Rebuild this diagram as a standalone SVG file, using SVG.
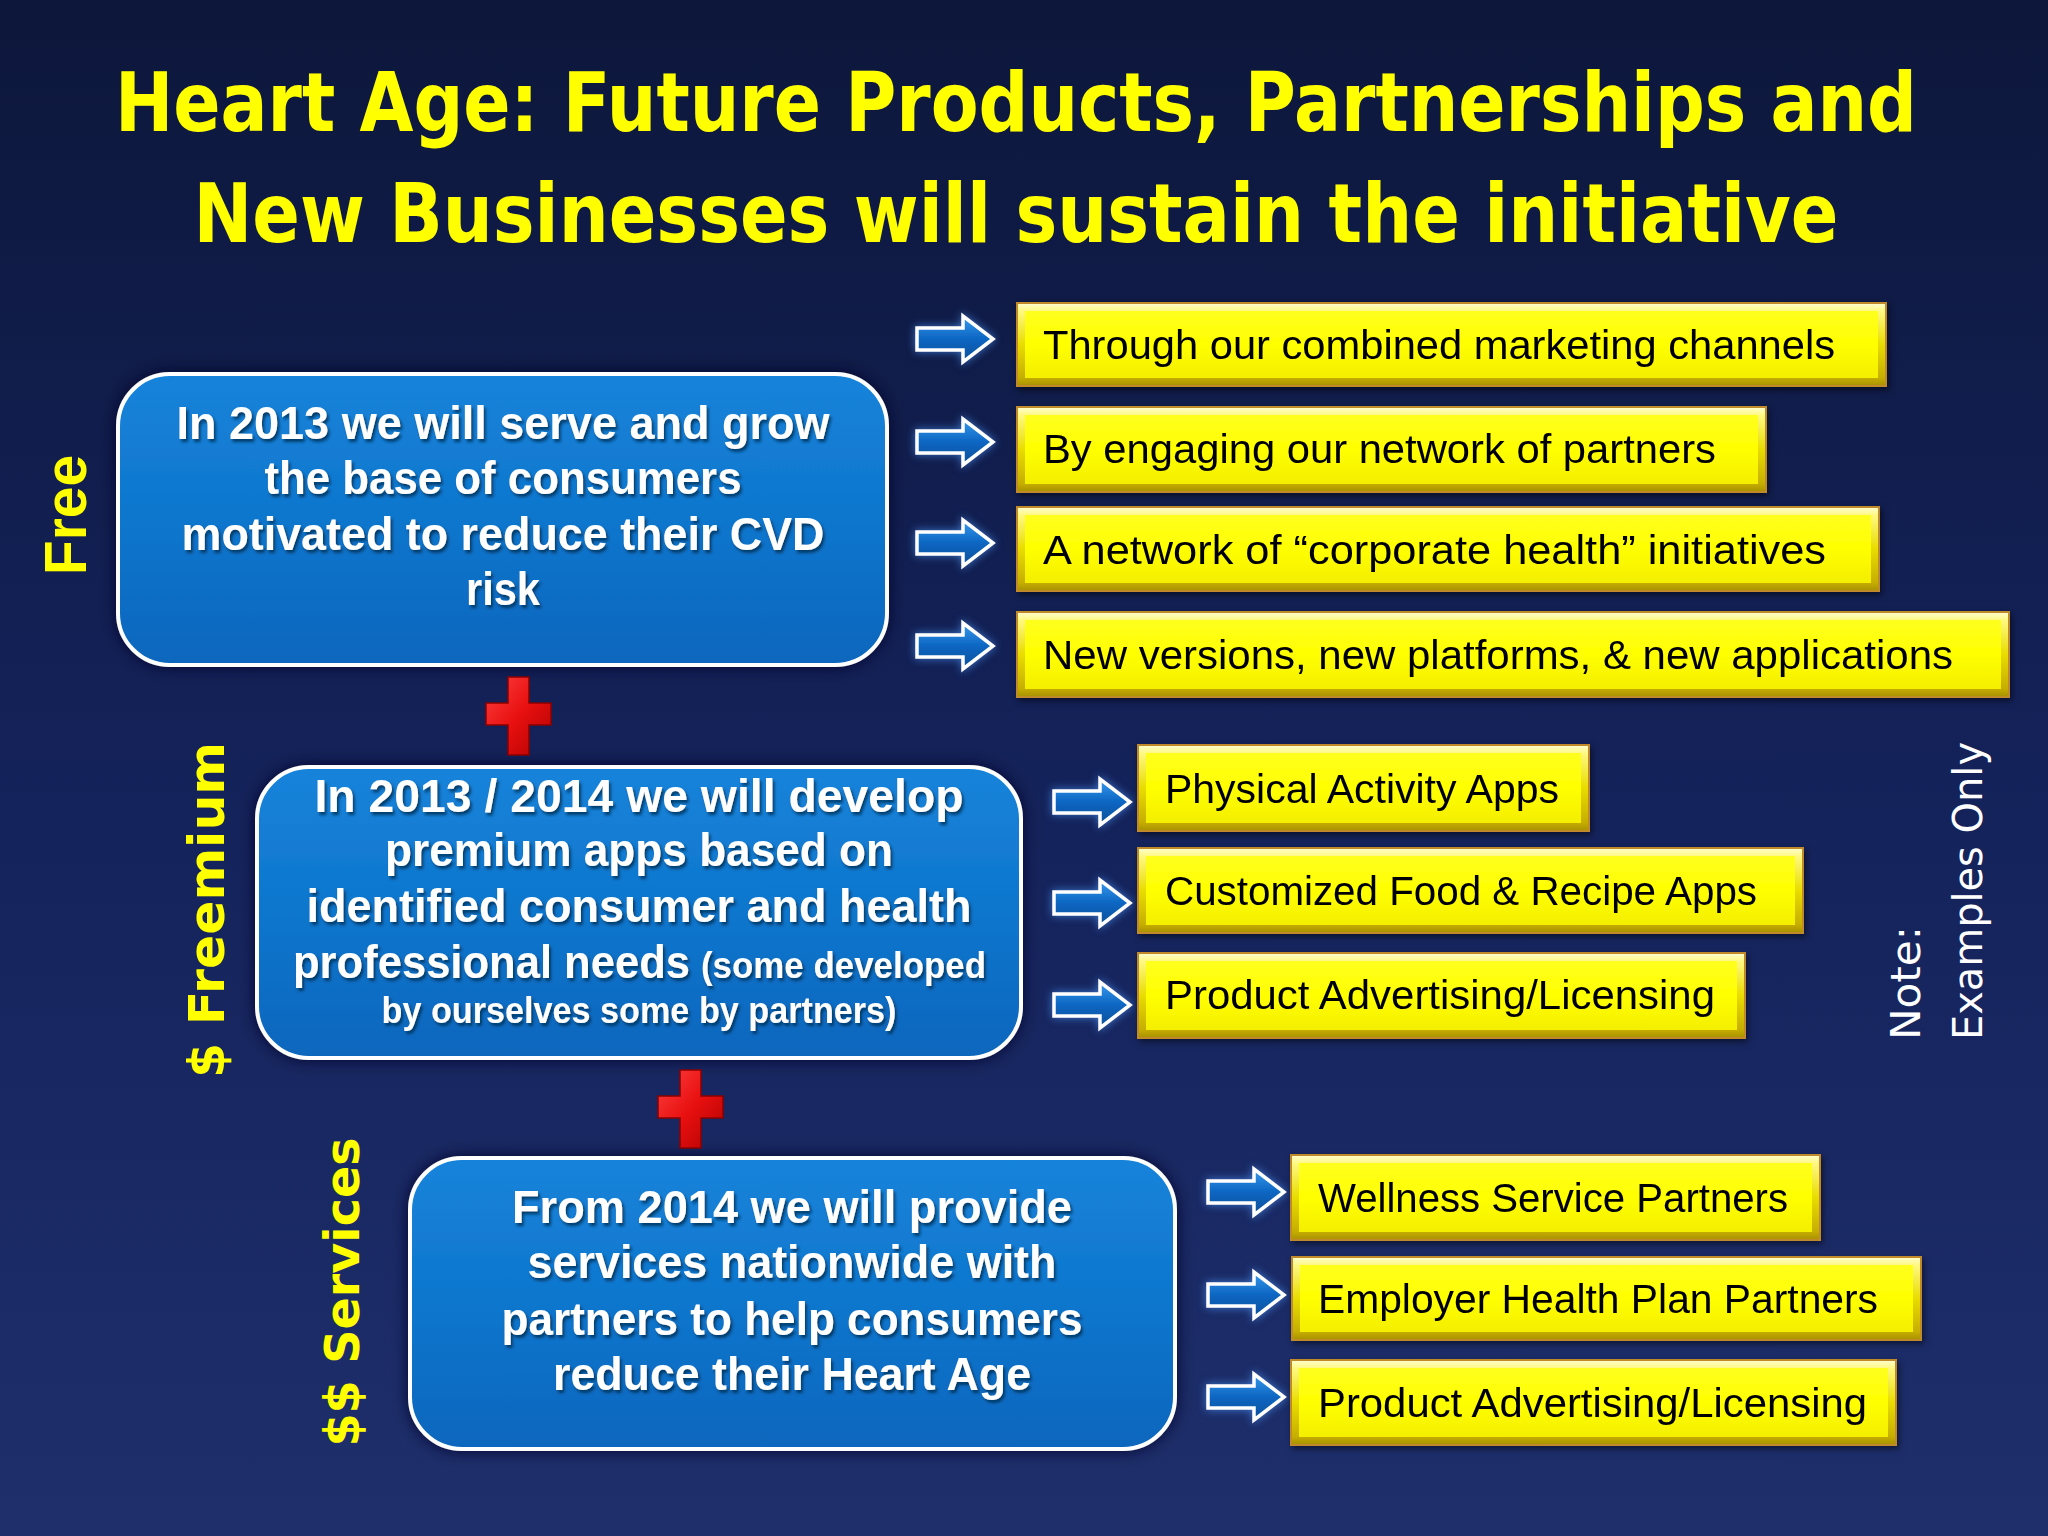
<svg xmlns="http://www.w3.org/2000/svg" width="2048" height="1536" viewBox="0 0 2048 1536">
<defs>
  <linearGradient id="bg" x1="0" y1="0" x2="0" y2="1">
    <stop offset="0" stop-color="#0d173b"/>
    <stop offset="0.5" stop-color="#14225a"/>
    <stop offset="1" stop-color="#1e2f6c"/>
  </linearGradient>
  <linearGradient id="blueBox" x1="0" y1="0" x2="0" y2="1">
    <stop offset="0" stop-color="#1683da"/>
    <stop offset="0.5" stop-color="#0f76cd"/>
    <stop offset="1" stop-color="#0a66bd"/>
  </linearGradient>
  <linearGradient id="yelBevel" x1="0" y1="0" x2="0" y2="1">
    <stop offset="0" stop-color="#fffdd0"/>
    <stop offset="0.1" stop-color="#fff880"/>
    <stop offset="0.5" stop-color="#e8dc00"/>
    <stop offset="0.9" stop-color="#c6ae00"/>
    <stop offset="1" stop-color="#a89000"/>
  </linearGradient>
  <linearGradient id="yel" x1="0" y1="0" x2="0" y2="1">
    <stop offset="0" stop-color="#ffff20"/>
    <stop offset="0.5" stop-color="#ffff00"/>
    <stop offset="1" stop-color="#f4ee00"/>
  </linearGradient>
  <linearGradient id="arrowFill" x1="0" y1="0" x2="0" y2="1">
    <stop offset="0" stop-color="#3a9af0"/>
    <stop offset="0.5" stop-color="#0b66c2"/>
    <stop offset="1" stop-color="#0a4f9a"/>
  </linearGradient>
  <linearGradient id="redFill" x1="0" y1="0" x2="1" y2="1">
    <stop offset="0" stop-color="#ff4040"/>
    <stop offset="0.5" stop-color="#e81010"/>
    <stop offset="1" stop-color="#b00000"/>
  </linearGradient>
  <filter id="boxGlow" x="-10%" y="-15%" width="120%" height="130%">
    <feGaussianBlur in="SourceAlpha" stdDeviation="8" result="b"/>
    <feFlood flood-color="#050c28" flood-opacity="0.9"/>
    <feComposite in2="b" operator="in" result="s"/>
    <feMerge><feMergeNode in="s"/><feMergeNode in="SourceGraphic"/></feMerge>
  </filter>
  <filter id="tshadow" x="-5%" y="-30%" width="110%" height="160%">
    <feDropShadow dx="2" dy="3" stdDeviation="1.5" flood-color="#06305a" flood-opacity="0.85"/>
  </filter>
  <filter id="aglow" x="-30%" y="-50%" width="160%" height="200%">
    <feGaussianBlur in="SourceAlpha" stdDeviation="4" result="b"/>
    <feFlood flood-color="#4a9cff" flood-opacity="0.7"/>
    <feComposite in2="b" operator="in" result="s"/>
    <feMerge><feMergeNode in="s"/><feMergeNode in="SourceGraphic"/></feMerge>
  </filter>
  <filter id="yshadow" x="-5%" y="-20%" width="110%" height="140%">
    <feDropShadow dx="2" dy="3" stdDeviation="3" flood-color="#000000" flood-opacity="0.5"/>
  </filter>
  <path id="arrow" d="M0,-11 H46 V-23 L76,0 L46,23 V11 H0 Z"/>
  <path id="plus" d="M-10.5,-39 H10.5 V-13 H32.5 V9 H10.5 V39 H-10.5 V9 H-32.5 V-13 H-10.5 Z"/>
  <style>
    .title { font-family: "DejaVu Sans", Verdana, sans-serif; font-weight: bold; font-size: 71px; fill: #ffff00; text-anchor: middle; }
    .bbox { fill: url(#blueBox); stroke: #ffffff; stroke-width: 4; }
    .bt { font-family: "Liberation Sans", Arial, sans-serif; font-weight: bold; font-size: 46px; fill: #ffffff; text-anchor: middle; }
    .bts { font-family: "Liberation Sans", Arial, sans-serif; font-weight: bold; font-size: 36px; fill: #ffffff; }
    .ybo { fill: url(#yelBevel); stroke: #c08a2a; stroke-width: 2; }
    .ybi { fill: url(#yel); }
    .yt { font-family: "Liberation Sans", Arial, sans-serif; font-size: 40px; fill: #000000; }
    .arr { fill: url(#arrowFill); stroke: #ffffff; stroke-width: 3.5; stroke-linejoin: miter; }
    .plus { fill: url(#redFill); stroke: #8a0000; stroke-width: 1.5; }
    .side { font-family: "DejaVu Sans", Verdana, sans-serif; font-weight: bold; fill: #ffff00; }
    .note { font-family: "DejaVu Sans", Verdana, sans-serif; font-size: 40px; fill: #ffffff; }
  </style>
</defs>

<rect x="0" y="0" width="2048" height="1536" fill="url(#bg)"/>

<g id="title">
  <text class="title" transform="translate(1016,131) scale(1,1.15)" x="0" y="0" textLength="1802" lengthAdjust="spacingAndGlyphs">Heart Age: Future Products, Partnerships and</text>
  <text class="title" transform="translate(1016,242) scale(1,1.15)" x="0" y="0" textLength="1645" lengthAdjust="spacingAndGlyphs">New Businesses will sustain the initiative</text>
</g>

<g id="side-labels">
  <text class="side" font-size="60" text-anchor="middle" transform="translate(86,515) rotate(-90)" textLength="120" lengthAdjust="spacingAndGlyphs" style="font-family:'Liberation Sans', Arial, sans-serif">Free</text>
  <text class="side" font-size="50" text-anchor="middle" transform="translate(224,910) rotate(-90)" textLength="336" lengthAdjust="spacingAndGlyphs">$ Freemium</text>
  <text class="side" font-size="48" text-anchor="middle" transform="translate(359,1292) rotate(-90)" textLength="309" lengthAdjust="spacingAndGlyphs">$$ Services</text>
</g>

<g id="note">
  <text class="note" transform="translate(1920,1040) rotate(-90)" textLength="114" lengthAdjust="spacingAndGlyphs">Note:</text>
  <text class="note" transform="translate(1982,1040) rotate(-90)" textLength="298" lengthAdjust="spacingAndGlyphs">Examples Only</text>
</g>

<g id="node-free" filter="url(#boxGlow)">
  <rect class="bbox" x="118" y="374" width="769" height="291" rx="52" ry="52"/>
  <g filter="url(#tshadow)">
    <text class="bt" x="503" y="439" textLength="653" lengthAdjust="spacingAndGlyphs">In 2013 we will serve and grow</text>
    <text class="bt" x="503" y="494" textLength="477" lengthAdjust="spacingAndGlyphs">the base of consumers</text>
    <text class="bt" x="503" y="550" textLength="643" lengthAdjust="spacingAndGlyphs">motivated to reduce their CVD</text>
    <text class="bt" x="503" y="605" textLength="74" lengthAdjust="spacingAndGlyphs">risk</text>
  </g>
</g>

<g id="node-freemium" filter="url(#boxGlow)">
  <rect class="bbox" x="257" y="767" width="764" height="291" rx="52" ry="52"/>
  <g filter="url(#tshadow)">
    <text class="bt" x="639" y="812" textLength="649" lengthAdjust="spacingAndGlyphs">In 2013 / 2014 we will develop</text>
    <text class="bt" x="639" y="866" textLength="508" lengthAdjust="spacingAndGlyphs">premium apps based on</text>
    <text class="bt" x="639" y="922" textLength="665" lengthAdjust="spacingAndGlyphs">identified consumer and health</text>
    <text class="bt" x="293" y="978" style="text-anchor:start" textLength="397" lengthAdjust="spacingAndGlyphs">professional needs</text>
    <text class="bts" x="701" y="978" textLength="285" lengthAdjust="spacingAndGlyphs">(some developed</text>
    <text class="bts" x="639" y="1023" text-anchor="middle" textLength="515" lengthAdjust="spacingAndGlyphs">by ourselves some by partners)</text>
  </g>
</g>

<g id="node-services" filter="url(#boxGlow)">
  <rect class="bbox" x="410" y="1158" width="765" height="291" rx="52" ry="52"/>
  <g filter="url(#tshadow)">
    <text class="bt" x="792" y="1223" textLength="560" lengthAdjust="spacingAndGlyphs">From 2014 we will provide</text>
    <text class="bt" x="792" y="1278" textLength="529" lengthAdjust="spacingAndGlyphs">services nationwide with</text>
    <text class="bt" x="792" y="1335" textLength="581" lengthAdjust="spacingAndGlyphs">partners to help consumers</text>
    <text class="bt" x="792" y="1390" textLength="478" lengthAdjust="spacingAndGlyphs">reduce their Heart Age</text>
  </g>
</g>

<g id="plus-signs">
  <use href="#plus" class="plus" transform="translate(518.5,716)"/>
  <use href="#plus" class="plus" transform="translate(690.5,1109)"/>
</g>

<g id="connectors" filter="url(#aglow)">
  <use href="#arrow" class="arr" x="917" y="339"/>
  <use href="#arrow" class="arr" x="917" y="442"/>
  <use href="#arrow" class="arr" x="917" y="543"/>
  <use href="#arrow" class="arr" x="917" y="646"/>
  <use href="#arrow" class="arr" x="1054" y="802"/>
  <use href="#arrow" class="arr" x="1054" y="903"/>
  <use href="#arrow" class="arr" x="1054" y="1005"/>
  <use href="#arrow" class="arr" x="1208" y="1192"/>
  <use href="#arrow" class="arr" x="1208" y="1295"/>
  <use href="#arrow" class="arr" x="1208" y="1397"/>
</g>

<g id="node-y1" filter="url(#yshadow)">
  <rect class="ybo" x="1017" y="303" width="869" height="83"/>
  <rect class="ybi" x="1025" y="311" width="853" height="67"/>
  <text class="yt" x="1043" y="359" textLength="792" lengthAdjust="spacingAndGlyphs">Through our combined marketing channels</text>
</g>
<g id="node-y2" filter="url(#yshadow)">
  <rect class="ybo" x="1017" y="407" width="749" height="85"/>
  <rect class="ybi" x="1025" y="415" width="733" height="69"/>
  <text class="yt" x="1043" y="463" textLength="673" lengthAdjust="spacingAndGlyphs">By engaging our network of partners</text>
</g>
<g id="node-y3" filter="url(#yshadow)">
  <rect class="ybo" x="1017" y="507" width="862" height="84"/>
  <rect class="ybi" x="1025" y="515" width="846" height="68"/>
  <text class="yt" x="1043" y="564" textLength="783" lengthAdjust="spacingAndGlyphs">A network of “corporate health” initiatives</text>
</g>
<g id="node-y4" filter="url(#yshadow)">
  <rect class="ybo" x="1017" y="612" width="992" height="85"/>
  <rect class="ybi" x="1025" y="620" width="976" height="69"/>
  <text class="yt" x="1043" y="669" textLength="910" lengthAdjust="spacingAndGlyphs">New versions, new platforms, &amp; new applications</text>
</g>

<g id="node-y5" filter="url(#yshadow)">
  <rect class="ybo" x="1138" y="745" width="451" height="86"/>
  <rect class="ybi" x="1146" y="753" width="435" height="70"/>
  <text class="yt" x="1165" y="803" textLength="394" lengthAdjust="spacingAndGlyphs">Physical Activity Apps</text>
</g>
<g id="node-y6" filter="url(#yshadow)">
  <rect class="ybo" x="1138" y="848" width="665" height="85"/>
  <rect class="ybi" x="1146" y="856" width="649" height="69"/>
  <text class="yt" x="1165" y="905" textLength="592" lengthAdjust="spacingAndGlyphs">Customized Food &amp; Recipe Apps</text>
</g>
<g id="node-y7" filter="url(#yshadow)">
  <rect class="ybo" x="1138" y="953" width="607" height="85"/>
  <rect class="ybi" x="1146" y="961" width="591" height="69"/>
  <text class="yt" x="1165" y="1009" textLength="550" lengthAdjust="spacingAndGlyphs">Product Advertising/Licensing</text>
</g>

<g id="node-y8" filter="url(#yshadow)">
  <rect class="ybo" x="1291" y="1155" width="529" height="85"/>
  <rect class="ybi" x="1299" y="1163" width="513" height="69"/>
  <text class="yt" x="1318" y="1212" textLength="470" lengthAdjust="spacingAndGlyphs">Wellness Service Partners</text>
</g>
<g id="node-y9" filter="url(#yshadow)">
  <rect class="ybo" x="1292" y="1257" width="629" height="83"/>
  <rect class="ybi" x="1300" y="1265" width="613" height="67"/>
  <text class="yt" x="1318" y="1313" textLength="560" lengthAdjust="spacingAndGlyphs">Employer Health Plan Partners</text>
</g>
<g id="node-y10" filter="url(#yshadow)">
  <rect class="ybo" x="1291" y="1360" width="605" height="85"/>
  <rect class="ybi" x="1299" y="1368" width="589" height="69"/>
  <text class="yt" x="1318" y="1417" textLength="549" lengthAdjust="spacingAndGlyphs">Product Advertising/Licensing</text>
</g>
</svg>
